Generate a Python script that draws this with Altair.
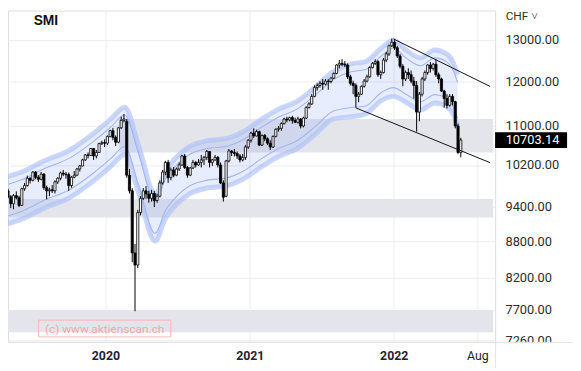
import altair as alt
import pandas as pd

# ---------------- weekly candles (week starting Monday) ----------------
week_start = "2019-04-22"
opens = [
    9720, 9700, 9590, 9460, 9610, 9570, 9430, 9740, 9800, 9940,
    9900, 10060, 9960, 9920, 10020, 9760, 9700, 9720, 9700, 9870,
    9940, 10040, 10020, 10010, 9800, 9960, 10000, 10120, 10180, 10300,
    10400, 10390, 10530, 10380, 10450, 10630, 10650, 10640, 10780, 10900,
    10760, 10660, 10960, 11120, 11100, 10000, 9700, 8600, 8400, 9300,
    9560, 9700, 9640, 9560, 9650, 9520, 9600, 9850, 10060, 10250,
    9950, 10100, 10000, 10120, 10200, 10380, 10150, 10000, 10140, 10250,
    10200, 10250, 10300, 10350, 10470, 10250, 10300, 10350, 10200, 9850,
    9600, 10280, 10480, 10450, 10430, 10380, 10300, 10350, 10560, 10700,
    10850, 10790, 10880, 10600, 10800, 10730, 10640, 10560, 10780, 10930,
    10950, 11050, 11150, 11130, 11180, 11120, 11080, 11150, 11000, 11170,
    11400, 11480, 11650, 11850, 11900, 11950, 11930, 12000, 11990, 12070,
    12180, 12380, 12420, 12400, 12380, 12100, 11950, 11900, 11650, 11700,
    11880, 12000, 12100, 12320, 12420, 12460, 12150, 12200, 12500, 12650,
    12850, 12940, 12800, 12600, 12350, 12050, 12200, 12150, 12000, 11900,
    11300, 11700, 12050, 12200, 12380, 12300, 12400, 12150, 12050, 11770,
    11600, 11450, 11650, 11530, 11000, 10450,
]
highs = [
    9780, 9740, 9620, 9640, 9690, 9610, 9760, 9850, 9990, 9960,
    10080, 10080, 10000, 10060, 10040, 9800, 9760, 9810, 9900, 9960,
    10070, 10100, 10060, 10050, 9980, 10080, 10140, 10200, 10320, 10420,
    10450, 10540, 10540, 10500, 10650, 10690, 10720, 10800, 10920, 10960,
    10800, 10980, 11200, 11260, 11150, 10120, 9750, 8750, 9350, 9600,
    9750, 9790, 9700, 9720, 9700, 9650, 9900, 10100, 10280, 10300,
    10150, 10160, 10150, 10250, 10400, 10420, 10180, 10160, 10300, 10280,
    10320, 10400, 10380, 10500, 10480, 10320, 10400, 10380, 10250, 9900,
    10300, 10520, 10500, 10520, 10470, 10420, 10420, 10600, 10720, 10880,
    10950, 10920, 10900, 10820, 10830, 10760, 10700, 10800, 10950, 11000,
    11080, 11180, 11200, 11200, 11220, 11180, 11200, 11170, 11200, 11430,
    11520, 11700, 11900, 11950, 12000, 12050, 12050, 12050, 12100, 12200,
    12400, 12500, 12520, 12480, 12420, 12150, 12010, 11950, 11750, 11900,
    12050, 12150, 12350, 12450, 12520, 12500, 12250, 12550, 12700, 12880,
    13030, 12990, 12850, 12650, 12400, 12250, 12300, 12250, 12100, 12000,
    11750, 12100, 12250, 12400, 12450, 12430, 12520, 12200, 12080, 11800,
    11700, 11700, 11700, 11550, 11050, 10750,
]
lows = [
    9640, 9560, 9380, 9360, 9540, 9400, 9420, 9700, 9780, 9840,
    9880, 9920, 9870, 9900, 9720, 9540, 9600, 9660, 9650, 9830,
    9900, 9980, 9930, 9700, 9760, 9940, 9980, 10070, 10170, 10280,
    10330, 10380, 10300, 10330, 10440, 10600, 10560, 10600, 10760, 10700,
    10580, 10640, 10940, 11080, 9950, 9650, 8450, 7680, 8350, 9250,
    9530, 9550, 9480, 9500, 9400, 9480, 9580, 9820, 10000, 9850,
    9900, 9960, 9980, 10080, 10180, 10120, 9950, 9980, 10120, 10150,
    10180, 10150, 10200, 10300, 10150, 10180, 10280, 10150, 9830, 9500,
    9580, 10250, 10380, 10370, 10320, 10250, 10270, 10300, 10520, 10650,
    10750, 10780, 10580, 10580, 10680, 10600, 10500, 10540, 10760, 10880,
    10900, 11030, 11080, 11100, 11050, 11060, 11050, 10950, 10970, 11150,
    11380, 11460, 11630, 11780, 11850, 11800, 11900, 11800, 11950, 12050,
    12160, 12300, 12350, 12330, 12050, 11900, 11700, 11400, 11520, 11680,
    11850, 11970, 12080, 12300, 12380, 12100, 12050, 12180, 12450, 12600,
    12820, 12750, 12550, 12300, 11880, 12000, 12050, 11950, 11600, 10880,
    11100, 11650, 12000, 12150, 12200, 12250, 12100, 11950, 11750, 11400,
    11380, 11420, 11450, 10950, 10420, 10350,
]
closes = [
    9700, 9590, 9460, 9610, 9570, 9430, 9740, 9800, 9940, 9900,
    10060, 9960, 9920, 10020, 9760, 9700, 9720, 9700, 9870, 9940,
    10040, 10020, 10010, 9800, 9960, 10000, 10120, 10180, 10300, 10400,
    10390, 10530, 10380, 10450, 10630, 10650, 10640, 10780, 10900, 10760,
    10660, 10960, 11120, 11150, 10000, 9700, 8600, 8400, 9300, 9560,
    9700, 9640, 9560, 9650, 9520, 9600, 9850, 10060, 10250, 9950,
    10100, 10000, 10120, 10200, 10380, 10150, 10000, 10140, 10250, 10200,
    10250, 10300, 10350, 10470, 10250, 10300, 10350, 10200, 9850, 9580,
    10280, 10480, 10450, 10430, 10380, 10300, 10350, 10560, 10700, 10850,
    10790, 10880, 10600, 10800, 10730, 10640, 10560, 10780, 10930, 10950,
    11050, 11150, 11130, 11180, 11120, 11080, 11150, 11000, 11170, 11400,
    11480, 11650, 11850, 11900, 11950, 11930, 12000, 11990, 12070, 12180,
    12380, 12420, 12400, 12380, 12100, 11950, 11900, 11650, 11700, 11880,
    12000, 12100, 12320, 12420, 12460, 12150, 12200, 12500, 12650, 12850,
    12940, 12800, 12600, 12350, 12050, 12200, 12150, 12000, 11900, 11300,
    11700, 12050, 12200, 12380, 12300, 12400, 12150, 12050, 11770, 11600,
    11450, 11650, 11530, 11000, 10450, 10703.14,
]
assert len(opens) == len(highs) == len(lows) == len(closes) == 166

# ---------------- envelope band (read at sample dates) ----------------
band_dates = [
    "2019-04-01", "2019-06-01", "2019-08-01", "2019-10-01", "2019-12-01",
    "2020-01-15", "2020-02-19", "2020-03-25", "2020-05-06", "2020-06-01",
    "2020-07-01", "2020-08-01", "2020-09-15", "2020-11-01", "2020-12-15",
    "2021-02-01", "2021-03-15", "2021-05-01", "2021-06-15", "2021-08-01",
    "2021-09-15", "2021-10-20", "2021-12-01", "2021-12-31", "2022-02-01",
    "2022-03-10", "2022-04-15", "2022-05-15", "2022-06-01", "2022-06-12",
]
band_upper_outer = [9923, 10057, 10290, 10489, 10835, 11151, 11409, 10590, 9642, 10076,
                    10369, 10570, 10691, 10732, 10877, 11151, 11365, 11540, 11853, 12222,
                    12410, 12457, 12796, 12993, 12747, 12553, 12747, 12650, 12433, 12152]
band_upper_inner = [9772, 9904, 10134, 10330, 10671, 10981, 11236, 10429, 9496, 9923,
                    10211, 10409, 10529, 10570, 10711, 10981, 11193, 11365, 11673, 12036,
                    12222, 12269, 12601, 12796, 12553, 12362, 12553, 12457, 12245, 11967]
band_lower_inner = [9193, 9316, 9532, 9716, 10037, 10330, 10570, 9810, 8932, 9334,
                    9606, 9791, 9904, 9942, 10076, 10330, 10529, 10691, 10981, 11322,
                    11400, 11430, 11740, 11850, 11700, 11530, 11690, 11610, 11420, 11170]
band_lower_outer = [9053, 9175, 9388, 9569, 9885, 10172, 10409, 9661, 8797, 9193,
                    9459, 9642, 9754, 9791, 9923, 10172, 10369, 10529, 10815, 11151,
                    11200, 11250, 11560, 11650, 11520, 11350, 11500, 11420, 11250, 11000]

# ---------------- grey support / resistance zones ----------------
zone_start = ["2020-02-05", "2019-04-01", "2019-04-01"]
zone_end = ["2022-09-10", "2022-09-10", "2022-09-10"]
zone_top = [11150, 9550, 7700]
zone_bottom = [10450, 9210, 7375]

# ---------------- trend channel lines ----------------
chan_start = ["2021-12-31", "2021-09-27"]
chan_end = ["2022-09-02T12:00:00", "2022-09-02T12:00:00"]
chan_start_val = [13025, 11393]
chan_end_val = [11876, 10244]

last_close = 10703.14
y_ticks = [7260, 7700, 8200, 8800, 9400, 10200, 11000, 12000, 13000]

# ---------------- tables ----------------
def local(d):
    return d if "T" in d else d + "T00:00:00"

dates = pd.date_range(week_start, periods=len(opens), freq="7D").strftime("%Y-%m-%dT00:00:00")
candles = pd.DataFrame({"date": dates, "o": opens, "h": highs, "l": lows, "c": closes})
band = pd.DataFrame({"date": [local(d) for d in band_dates], "uo": band_upper_outer,
                     "ui": band_upper_inner, "li": band_lower_inner, "lo": band_lower_outer})
zones = pd.DataFrame({"x1": [local(d) for d in zone_start], "x2": [local(d) for d in zone_end],
                      "y1": zone_top, "y2": zone_bottom})
chan = pd.DataFrame({"x1": [local(d) for d in chan_start], "x2": chan_end,
                     "y1": chan_start_val, "y2": chan_end_val})
last = pd.DataFrame({"c": [last_close], "t": [f"{last_close:.2f}"]})

FONT = "Roboto"
xs = alt.Scale(domain=[alt.DateTime(year=2019, month=5, date=11, hours=12),
                       alt.DateTime(year=2022, month=9, date=2, hours=12)], nice=False)
ys = alt.Scale(type="log", domain=[7238, 13760], nice=False, zero=False)
xa = alt.Axis(
    values=[alt.DateTime(year=2020, month=1, date=1), alt.DateTime(year=2021, month=1, date=1),
            alt.DateTime(year=2022, month=1, date=1), alt.DateTime(year=2022, month=8, date=1)],
    labelExpr="month(datum.value) == 7 ? 'Aug' : timeFormat(datum.value, '%Y')",
    labelFontWeight={"condition": {"test": "month(datum.value) == 7", "value": "normal"}, "value": "bold"},
    grid=True, gridColor="#ededed", ticks=False, domainColor="#e2e2e2",
    labelFontSize=12.5, labelColor="#1e2230", labelPadding=8, labelFont=FONT, title=None,
)
ya = alt.Axis(
    orient="right", values=y_ticks, format=".2f", grid=True, gridColor="#ededed", ticks=False,
    domainColor="#e2e2e2", labelFontSize=13, labelColor="#2e2e2e", labelPadding=10,
    labelFont=FONT, title=None, labelOverlap=False, labelBound=False,
)

def X(f):
    return alt.X(f, type="temporal", scale=xs, axis=xa)

def Y(f):
    return alt.Y(f, type="quantitative", scale=ys, axis=ya)

zone_layer = alt.Chart(zones).mark_rect(color="#e4e5ea", clip=True).encode(
    x=X("x1"), x2="x2:T", y=Y("y1"), y2="y2:Q")

band_area = alt.Chart(band).mark_area(interpolate="monotone", color="#5b82f0", opacity=0.14, clip=True).encode(
    x=X("date"), y=Y("uo"), y2="lo:Q")
line_kw = dict(interpolate="monotone", clip=True)
band_uo = alt.Chart(band).mark_line(color="#aec2f8", strokeWidth=5, opacity=0.65, **line_kw).encode(x=X("date"), y=Y("uo"))
band_lo = alt.Chart(band).mark_line(color="#aec2f8", strokeWidth=5, opacity=0.65, **line_kw).encode(x=X("date"), y=Y("lo"))
band_ui = alt.Chart(band).mark_line(color="#a0b6f3", strokeWidth=1.1, **line_kw).encode(x=X("date"), y=Y("ui"))
band_li = alt.Chart(band).mark_line(color="#a0b6f3", strokeWidth=1.1, **line_kw).encode(x=X("date"), y=Y("li"))

wicks = alt.Chart(candles).mark_rule(color="black", strokeWidth=1, clip=True).encode(
    x=X("date"), y=Y("l"), y2="h:Q")
bodies = alt.Chart(candles).mark_bar(size=2.2, stroke="black", strokeWidth=0.8, clip=True).encode(
    x=X("date"), y=Y("o"), y2="c:Q",
    fill=alt.condition("datum.c >= datum.o", alt.value("white"), alt.value("black")))

chan_layer = alt.Chart(chan).mark_rule(color="#111111", strokeWidth=1, clip=True).encode(
    x=X("x1"), x2="x2:T", y=Y("y1"), y2="y2:Q")

price_box = alt.Chart(last).mark_tick(orient="horizontal", color="black", size=73, thickness=16, opacity=1).encode(
    x=alt.value(530.5), y=Y("c"))
price_txt = alt.Chart(last).mark_text(align="left", baseline="middle", color="white", fontSize=13, font=FONT).encode(
    x=alt.value(504.7), y=Y("c"), text="t:N")

labels = pd.DataFrame({"t": ["SMI"]})
title_txt = alt.Chart(labels).mark_text(align="left", baseline="middle", fontSize=14, fontWeight="bold",
                                        font="Liberation Sans", color="#111111").encode(
    x=alt.value(26), y=alt.value(10.5), text="t:N")
chf = pd.DataFrame({"t": ["CHF ˅"]})
chf_txt = alt.Chart(chf).mark_text(align="left", baseline="middle", fontSize=12, font=FONT, color="#333333").encode(
    x=alt.value(504.7), y=alt.value(5.5), text="t:N")
wm = pd.DataFrame({"t": ["(c) www.aktienscan.ch"]})
wm_box = alt.Chart(wm).mark_rect(fillOpacity=0, stroke="#f3b9b9", strokeWidth=1).encode(
    x=alt.value(31), x2=alt.value(165), y=alt.value(314), y2=alt.value(331))
wm_txt = alt.Chart(wm).mark_text(align="center", baseline="middle", fontSize=12, font=FONT, color="#f2a7a7").encode(
    x=alt.value(98), y=alt.value(323), text="t:N")

# bottom-right corner of the price scale (hides the lower half of the last label)
corner = pd.DataFrame({"t": ["corner"]})
corner_box = alt.Chart(corner).mark_rect(color="white").encode(
    x=alt.value(494.5), x2=alt.value(573), y=alt.value(336.5), y2=alt.value(363))
corner_h = alt.Chart(corner).mark_rule(color="#e2e2e2", strokeWidth=1).encode(
    x=alt.value(494), x2=alt.value(573), y=alt.value(336.5))
corner_v = alt.Chart(corner).mark_rule(color="#e2e2e2", strokeWidth=1).encode(
    x=alt.value(494.5), y=alt.value(336), y2=alt.value(363))

chart = alt.layer(
    zone_layer, band_area, band_uo, band_lo, band_ui, band_li, wicks, bodies, chan_layer,
    wm_box, wm_txt, price_box, price_txt, title_txt, chf_txt, corner_box, corner_h, corner_v,
).properties(
    width=494, height=336, autosize="none",
    padding={"left": 0, "top": 0, "right": 79, "bottom": 27},
).configure_view(stroke=None).configure(background="white")

chart.save("out.html", embed_options={"renderer": "svg", "actions": False})
